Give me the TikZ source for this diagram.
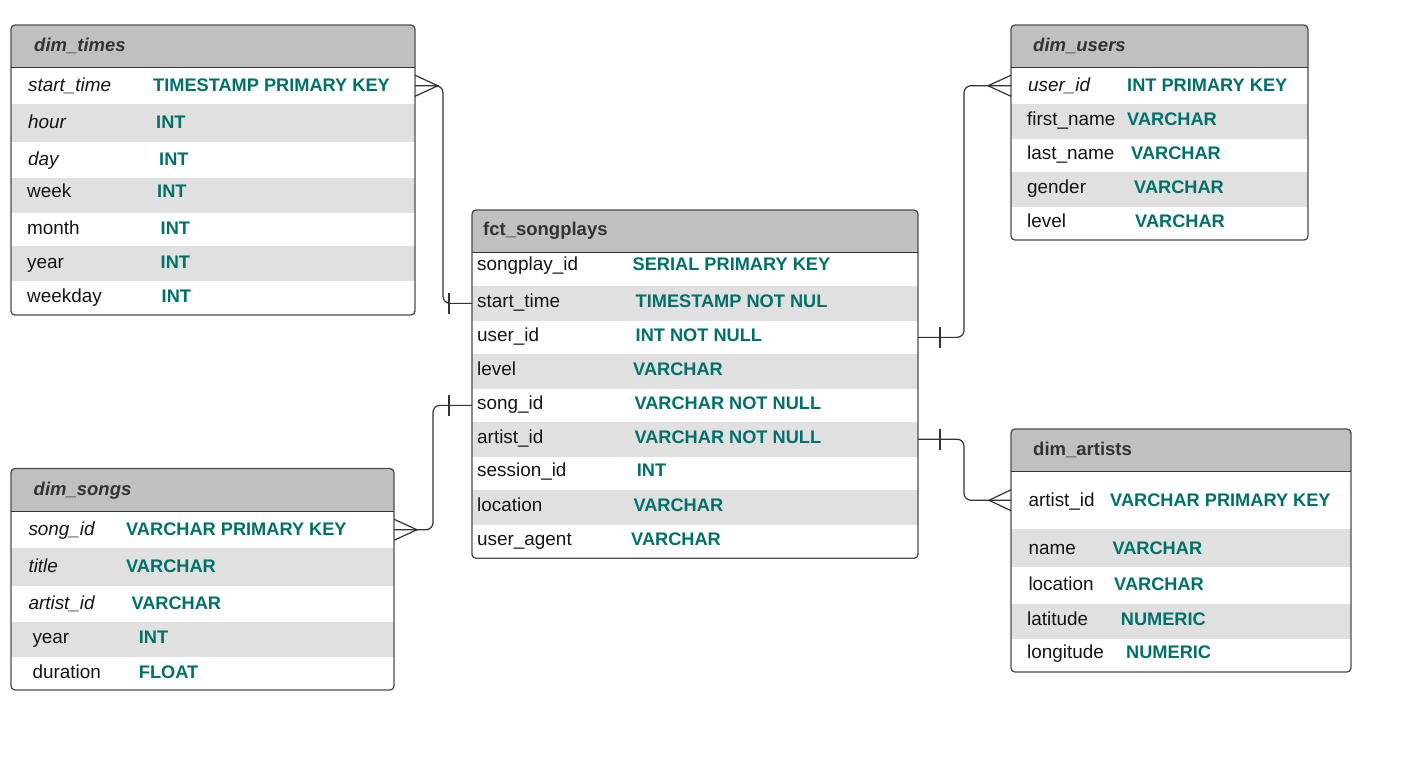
\documentclass[tikz,border=0pt]{standalone}
\usepackage{fontspec}
\setmainfont{Liberation Sans}

\definecolor{headgray}{HTML}{C0C0C0}
\definecolor{rowgray}{HTML}{E0E0E0}
\definecolor{typeteal}{HTML}{00706A}
\definecolor{linegray}{HTML}{4D4D4D}

\tikzset{
  rowbox/.style={rectangle, draw=none, inner sep=0pt, outer sep=0pt},
  tblhead/.style={rowbox, fill=headgray, rounded corners=4pt},
  tbltitle/.style={anchor=base west, inner sep=0pt, text=black!80, font=\fontsize{18.5}{22}\selectfont\bfseries},
  fieldname/.style={anchor=base west, inner sep=0pt, text=black!92, font=\fontsize{18.9}{22}\selectfont},
  fieldtype/.style={anchor=base west, inner sep=0pt, text=typeteal, font=\fontsize{18.2}{22}\selectfont\bfseries},
  tblline/.style={draw=linegray, line width=1.3pt},
  conn/.style={draw=black!80, line width=1.2pt},
}

% one row of a table: name, top, bottom, fill, field x, text y, field, type x, type
\newcommand{\dbrow}[9]{%
  \node[rowbox, fill=#4, minimum width=\tabw, minimum height={#3-#2}, anchor=north west] (#1) at (\tabl,#2) {};
  \node[fieldname] (#1-f) at (#5,{#6+6.6}) {#7};
  \node[fieldtype] (#1-t) at (#8,{#6+6.6}) {#9};
}

\begin{document}
\begin{tikzpicture}[x=1pt,y=-1pt]
  \path[use as bounding box, fill=white] (0,0) rectangle (1408,772);

  % dim_times
  \def\tabl{11}\def\tabw{404}
  \node[tblhead, minimum width=404, minimum height=50, anchor=north west] (times) at (11,25) {};
  \node[tbltitle] (times-title) at (34,51.6) {\textit{dim\_times}};
  \dbrow{times-start}{67.5}{104}{white}{28}{85}{\textit{start\_time}}{153}{TIMESTAMP PRIMARY KEY}
  \dbrow{times-hour}{104}{142}{rowgray}{28}{122}{\textit{hour}}{156}{INT}
  \dbrow{times-day}{142}{178}{white}{28}{159}{\textit{day}}{159}{INT}
  \dbrow{times-week}{178}{213}{rowgray}{27}{190.5}{week}{157}{INT}
  \dbrow{times-month}{213}{246}{white}{27}{227.5}{month}{160.5}{INT}
  \dbrow{times-year}{246}{281}{rowgray}{27}{261.5}{year}{160.5}{INT}
  \dbrow{times-weekday}{281}{315}{white}{27}{295.5}{weekday}{161.5}{INT}
  \draw[tblline, rounded corners=4] (times.north west) rectangle (times-weekday.south east);
  \draw[tblline, draw=black!80] (times-start.north west) -- (times-start.north east);

  % dim_users
  \def\tabl{1011}\def\tabw{297}
  \node[tblhead, minimum width=297, minimum height=50, anchor=north west] (users) at (1011,25) {};
  \node[tbltitle] (users-title) at (1033,51.6) {\textit{dim\_users}};
  \dbrow{users-user}{67.5}{104}{white}{1028}{85}{\textit{user\_id}}{1127}{INT PRIMARY KEY}
  \dbrow{users-first}{104}{139}{rowgray}{1027}{119}{first\_name}{1127}{VARCHAR}
  \dbrow{users-last}{139}{172}{white}{1027}{153}{last\_name}{1131}{VARCHAR}
  \dbrow{users-gender}{172}{207}{rowgray}{1027}{187}{gender}{1134}{VARCHAR}
  \dbrow{users-level}{207}{240}{white}{1027}{221}{level}{1135}{VARCHAR}
  \draw[tblline, rounded corners=4] (users.north west) rectangle (users-level.south east);
  \draw[tblline, draw=black!80] (users-user.north west) -- (users-user.north east);

  % fct_songplays
  \def\tabl{472}\def\tabw{446}
  \node[tblhead, minimum width=446, minimum height=50, anchor=north west] (fct) at (472,210) {};
  \node[tbltitle] (fct-title) at (483,235.8) {fct\_songplays};
  \dbrow{fct-songplay}{252.3}{286}{white}{477}{264}{songplay\_id}{632.5}{SERIAL PRIMARY KEY}
  \dbrow{fct-start}{286}{320.7}{rowgray}{477}{300.5}{start\_time}{635.5}{TIMESTAMP NOT NUL}
  \dbrow{fct-user}{320.7}{354}{white}{477}{335}{user\_id}{635.5}{INT NOT NULL}
  \dbrow{fct-level}{354}{389}{rowgray}{477}{369}{level}{633}{VARCHAR}
  \dbrow{fct-song}{389}{421.7}{white}{477}{403.3}{song\_id}{634.3}{VARCHAR NOT NULL}
  \dbrow{fct-artist}{421.7}{456.7}{rowgray}{477}{436.7}{artist\_id}{634.3}{VARCHAR NOT NULL}
  \dbrow{fct-session}{456.7}{490}{white}{477}{470}{session\_id}{636.7}{INT}
  \dbrow{fct-loc}{490}{525}{rowgray}{477}{505}{location}{633.3}{VARCHAR}
  \dbrow{fct-agent}{525}{558.3}{white}{477}{539}{user\_agent}{631}{VARCHAR}
  \draw[tblline, rounded corners=4] (fct.north west) rectangle (fct-agent.south east);
  \draw[tblline, draw=black!80] (fct-songplay.north west) -- (fct-songplay.north east);

  % dim_songs
  \def\tabl{11}\def\tabw{383}
  \node[tblhead, minimum width=383, minimum height=50, anchor=north west] (songs) at (11,468.5) {};
  \node[tbltitle] (songs-title) at (33.5,495.9) {\textit{dim\_songs}};
  \dbrow{songs-song}{511.5}{548}{white}{28.3}{529.3}{\textit{song\_id}}{126}{VARCHAR PRIMARY KEY}
  \dbrow{songs-title}{548}{586}{rowgray}{28.3}{566}{\textit{title}}{126}{VARCHAR}
  \dbrow{songs-artist}{586}{622}{white}{28.3}{603.3}{\textit{artist\_id}}{131.3}{VARCHAR}
  \dbrow{songs-year}{622}{657}{rowgray}{32.3}{637.3}{year}{138.7}{INT}
  \dbrow{songs-dur}{657}{690}{white}{32.3}{671.7}{duration}{138.7}{FLOAT}
  \draw[tblline, rounded corners=4] (songs.north west) rectangle (songs-dur.south east);
  \draw[tblline, draw=black!80] (songs-song.north west) -- (songs-song.north east);

  % dim_artists
  \def\tabl{1011}\def\tabw{340}
  \node[tblhead, minimum width=340, minimum height=50, anchor=north west] (artists) at (1011,429) {};
  \node[tbltitle] (artists-title) at (1033,455.9) {dim\_artists};
  \dbrow{artists-artist}{471.5}{529}{white}{1028.3}{500}{artist\_id}{1110}{VARCHAR PRIMARY KEY}
  \dbrow{artists-name}{529}{567}{rowgray}{1028.3}{547.7}{name}{1112.3}{VARCHAR}
  \dbrow{artists-loc}{567}{604}{white}{1028.3}{584.3}{location}{1114}{VARCHAR}
  \dbrow{artists-lat}{604}{639}{rowgray}{1027}{619}{latitude}{1120.7}{NUMERIC}
  \dbrow{artists-long}{639}{672}{white}{1027}{652.3}{longitude}{1126}{NUMERIC}
  \draw[tblline, rounded corners=4] (artists.north west) rectangle (artists-long.south east);
  \draw[tblline, draw=black!80] (artists-artist.north west) -- (artists-artist.north east);

  % relations
  \draw[conn, rounded corners=7] (times-start.east) -- ++(28,0) |- (fct-start.west);
  \draw[conn] ([yshift=10.5]times-start.east) -- ([xshift=23]times-start.east) -- ([yshift=-10.5]times-start.east);
  \draw[conn] ([xshift=-23,yshift=10.5]fct-start.west) -- ([xshift=-23,yshift=-10.5]fct-start.west);

  \draw[conn, rounded corners=7] (fct-user.east) -- ++(46,0) |- (users-user.west);
  \draw[conn] ([xshift=22,yshift=10.5]fct-user.east) -- ([xshift=22,yshift=-10.5]fct-user.east);
  \draw[conn] ([yshift=10.5]users-user.west) -- ([xshift=-23]users-user.west) -- ([yshift=-10.5]users-user.west);

  \draw[conn, rounded corners=7] (fct-artist.east) -- ++(46,0) |- (artists-artist.west);
  \draw[conn] ([xshift=22,yshift=10.5]fct-artist.east) -- ([xshift=22,yshift=-10.5]fct-artist.east);
  \draw[conn] ([yshift=10.5]artists-artist.west) -- ([xshift=-22]artists-artist.west) -- ([yshift=-10.5]artists-artist.west);

  \draw[conn, rounded corners=7] (songs-song.east) -- ++(39,0) |- (fct-song.west);
  \draw[conn] ([yshift=10.5]songs-song.east) -- ([xshift=23]songs-song.east) -- ([yshift=-10.5]songs-song.east);
  \draw[conn] ([xshift=-23,yshift=10.5]fct-song.west) -- ([xshift=-23,yshift=-10.5]fct-song.west);
\end{tikzpicture}
\end{document}
